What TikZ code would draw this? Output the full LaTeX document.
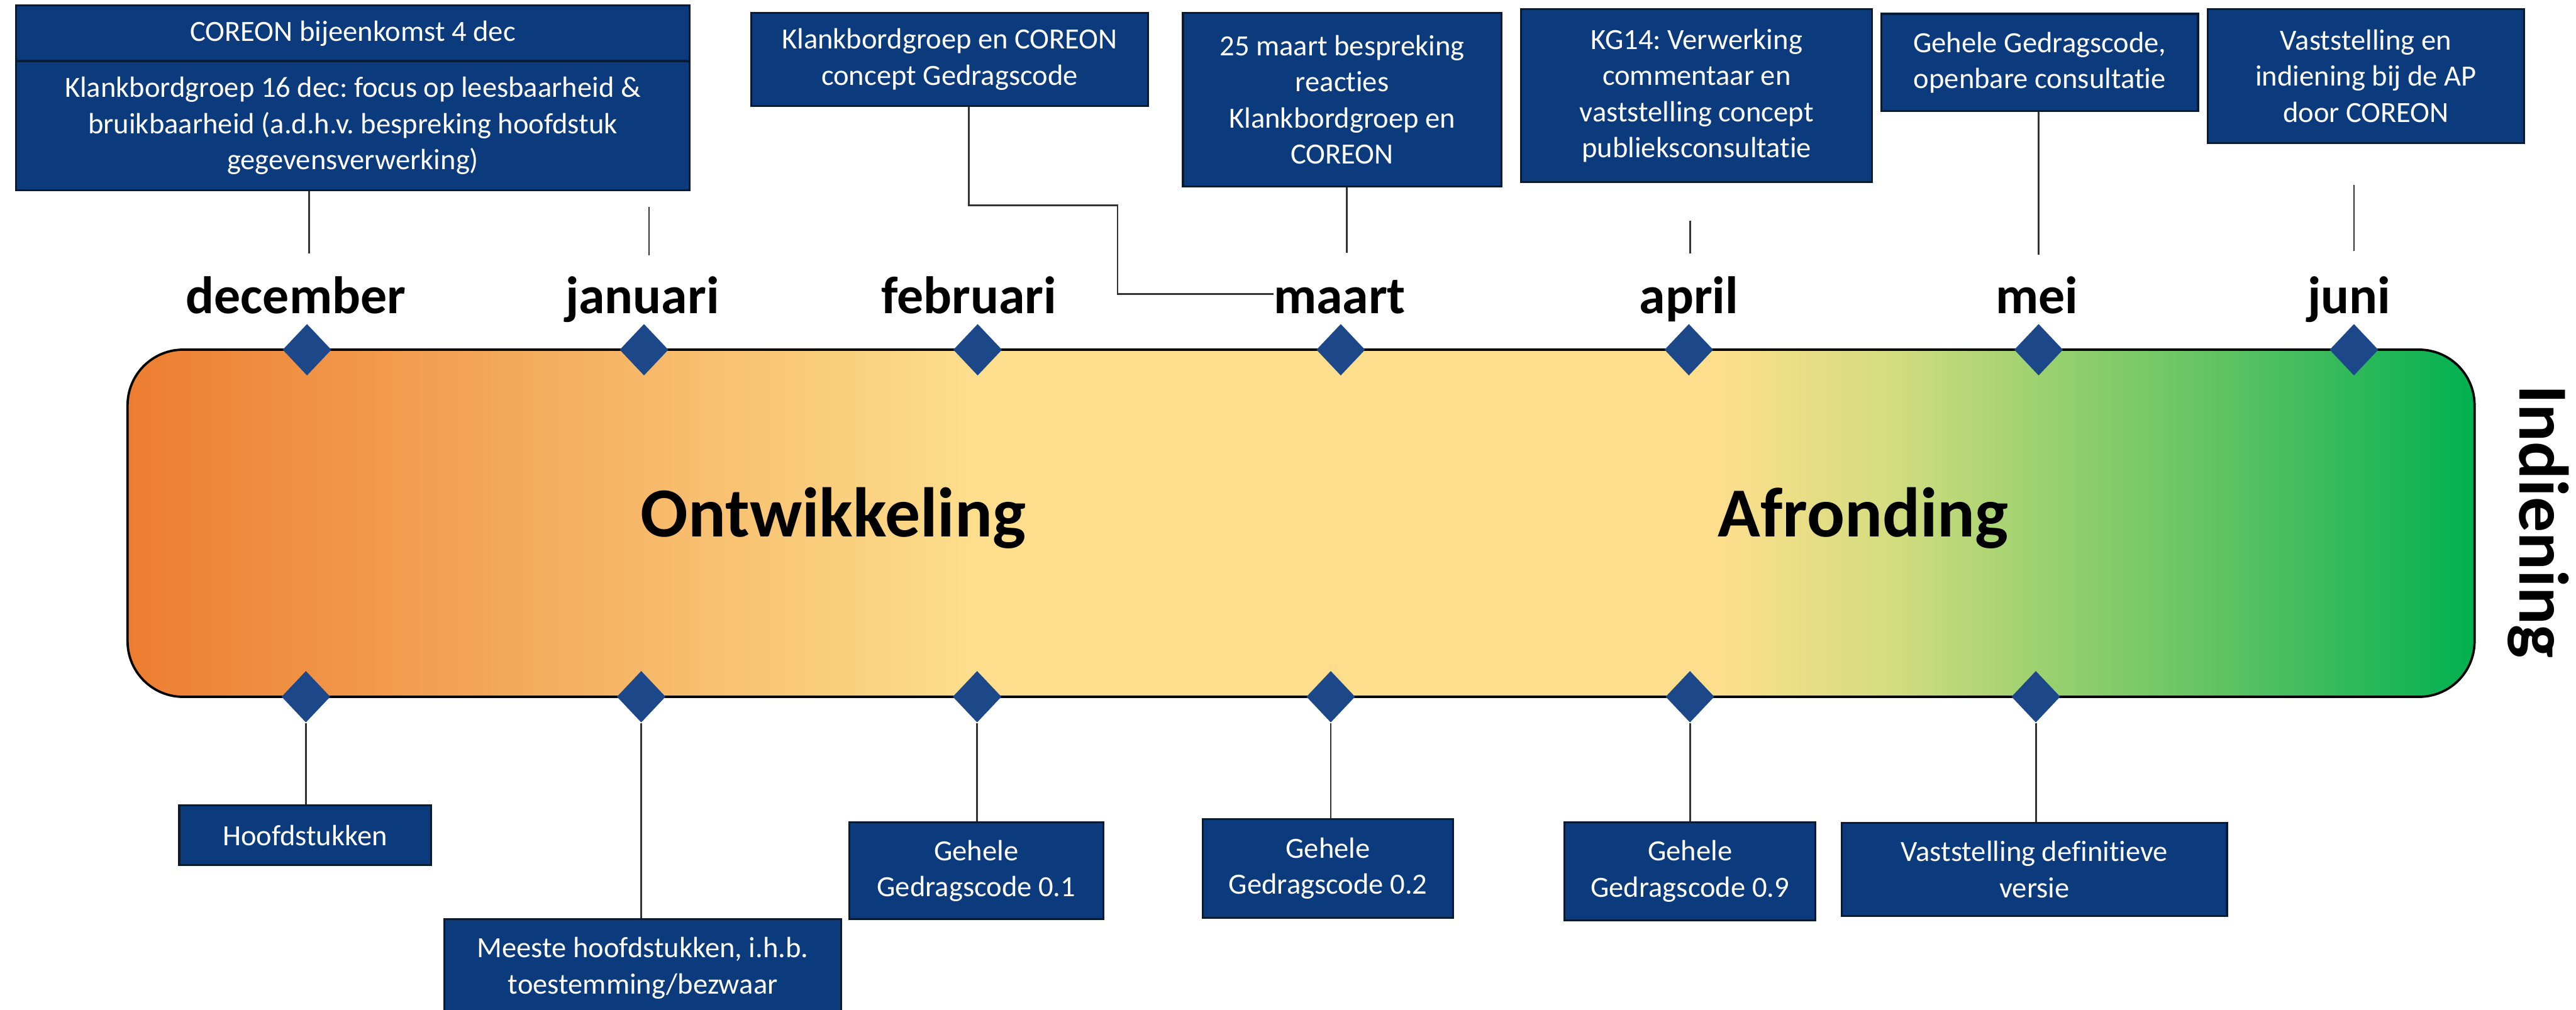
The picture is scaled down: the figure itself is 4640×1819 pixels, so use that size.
\documentclass[tikz,border=0pt]{standalone}
\usepackage{fontspec}
\setmainfont{Carlito}[Ligatures=NoCommon]
\frenchspacing
\usetikzlibrary{shapes.geometric}
\definecolor{navy}{HTML}{0B3B7C}
\definecolor{boxedge}{HTML}{0A1A33}
\definecolor{dia}{HTML}{1C4788}
\definecolor{linec}{HTML}{333333}
\definecolor{cOr}{RGB}{237,125,49}
\definecolor{cYe}{RGB}{252,222,140}
\definecolor{cG1}{RGB}{212,221,128}
\definecolor{cG2}{RGB}{152,208,110}
\definecolor{cG3}{RGB}{72,190,95}
\definecolor{cGr}{RGB}{0,176,80}
\pgfdeclarehorizontalshading{barshade}{100bp}{color(0bp)=(cOr); color(25bp)=(cOr); color(43bp)=(cYe); color(59bp)=(cYe); color(62.5bp)=(cG1); color(66bp)=(cG2); color(71bp)=(cG3); color(75bp)=(cGr); color(100bp)=(cGr)}
\begin{document}
\begin{tikzpicture}[x=0.01cm,y=-0.01cm,
  box/.style={fill=navy, draw=boxedge, line width=1pt, text=white, align=center,
              font=\fontsize{15}{18.5}\selectfont, inner sep=0pt},
  dmd/.style={diamond, fill=dia, inner sep=0pt, minimum width=0.88cm, minimum height=0.93cm},
  month/.style={font=\fontsize{27}{30}\selectfont\bfseries, anchor=base, inner sep=0pt},
  phase/.style={font=\fontsize{36}{40}\selectfont\bfseries, inner sep=0pt},
  link/.style={draw=linec, line width=0.9pt}]
\useasboundingbox (0,0) rectangle (4640,1819);

% main bar
\node[draw=black, line width=1.2pt, rounded corners=1cm, shading=barshade,
      minimum width=42.25cm, minimum height=6.25cm, inner sep=0pt] (bar) at (2343.5,942.5) {};

% phase labels
\node[phase, anchor=base] (ontw) at (1501,967) {Ontwikkeling};
\node[phase, anchor=base] (afr) at (3356,967) {Afronding};
\node[phase, rotate=-90] (ind) at (4572,940) {Indiening};

% month labels
\node[month] (m1) at (533,565) {december};
\node[month] (m2) at (1157,565) {januari};
\node[month] (m3) at (1745,565) {februari};
\node[month] (m4) at (2413,565) {maart};
\node[month] (m5) at (3042,565) {april};
\node[month] (m6) at (3669,565) {mei};
\node[month] (m7) at (4231,565) {juni};

% top diamonds
\node[dmd] (d1) at (553,630) {};
\node[dmd] (d2) at (1160,630) {};
\node[dmd] (d3) at (1761,630) {};
\node[dmd] (d4) at (2415,630) {};
\node[dmd] (d5) at (3042,630) {};
\node[dmd] (d6) at (3672,630) {};
\node[dmd] (d7) at (4240,630) {};

% bottom diamonds
\node[dmd] (b1) at (551,1255) {};
\node[dmd] (b2) at (1155,1255) {};
\node[dmd] (b3) at (1760,1255) {};
\node[dmd] (b4) at (2397,1255) {};
\node[dmd] (b5) at (3044,1255) {};
\node[dmd] (b6) at (3667,1255) {};

% top boxes
\node[box, minimum width=12.13cm, minimum height=1.0cm] (B1a) at (635.5,60) {COREON bijeenkomst 4 dec};
\node[box, minimum width=12.13cm, minimum height=2.33cm] (B1b) at (635.5,226.5)
  {Klankbordgroep 16 dec: focus op leesbaarheid \&\\bruikbaarheid (a.d.h.v. bespreking hoofdstuk\\gegevensverwerking)};
\node[box, minimum width=7.15cm, minimum height=1.68cm] (B2) at (1710.5,107)
  {Klankbordgroep en COREON\\concept Gedragscode};
\node[box, minimum width=5.73cm, minimum height=3.13cm] (B3) at (2417.5,179.5)
  {25 maart bespreking\\reacties\\Klankbordgroep en\\COREON};
\node[box, minimum width=6.32cm, minimum height=3.11cm] (B4) at (3056,172.5)
  {KG14: Verwerking\\commentaar en\\vaststelling concept\\publieksconsultatie};
\node[box, minimum width=5.70cm, minimum height=1.75cm] (B5) at (3674,112.5)
  {Gehele Gedragscode,\\openbare consultatie};
\node[box, minimum width=5.69cm, minimum height=2.42cm] (B6) at (4261.5,137)
  {Vaststelling en\\indiening bij de AP\\door COREON};

% bottom boxes
\node[box, minimum width=4.53cm, minimum height=1.07cm] (H) at (549.5,1504.5) {Hoofdstukken};
\node[box, minimum width=7.14cm, minimum height=1.76cm] (M) at (1158,1744)
  {Meeste hoofdstukken, i.h.b.\\toestemming/bezwaar};
\node[box, minimum width=4.57cm, minimum height=1.75cm] (G1) at (1758.5,1568.5) {Gehele\\Gedragscode 0.1};
\node[box, minimum width=4.50cm, minimum height=1.77cm] (G2) at (2392,1564.5) {Gehele\\Gedragscode 0.2};
\node[box, minimum width=4.52cm, minimum height=1.77cm] (G9) at (3044,1569.5) {Gehele\\Gedragscode 0.9};
\node[box, minimum width=6.93cm, minimum height=1.68cm] (V) at (3664.5,1566) {Vaststelling definitieve\\versie};

% free ends of top connectors
\coordinate (u1) at (557,457);
\coordinate (j1) at (1169,373);
\coordinate (j2) at (1169,460);
\coordinate (k1) at (1745,370);
\coordinate (k2) at (2013,530);
\coordinate (u3) at (2426,455);
\coordinate (u4a) at (3044,398);
\coordinate (u4b) at (3044,457);
\coordinate (u5) at (3672,459);
\coordinate (u6a) at (4240,333);
\coordinate (u6b) at (4240,452);

% top connectors
\draw[link] (B1b.south -| u1) -- (u1);
\draw[link] (j1) -- (j2);
\draw[link] (B2.south -| k1) -- (k1) -| (k2) -- (k2 -| m4.west);
\draw[link] (B3.south -| u3) -- (u3);
\draw[link] (u4a) -- (u4b);
\draw[link] (B5.south -| u5) -- (u5);
\draw[link] (u6a) -- (u6b);

% bottom connectors
\draw[link] (b1.south) -- (b1.south |- H.north);
\draw[link] (b2.south) -- (b2.south |- M.north);
\draw[link] (b3.south) -- (b3.south |- G1.north);
\draw[link] (b4.south) -- (b4.south |- G2.north);
\draw[link] (b5.south) -- (b5.south |- G9.north);
\draw[link] (b6.south) -- (b6.south |- V.north);
\end{tikzpicture}
\end{document}
